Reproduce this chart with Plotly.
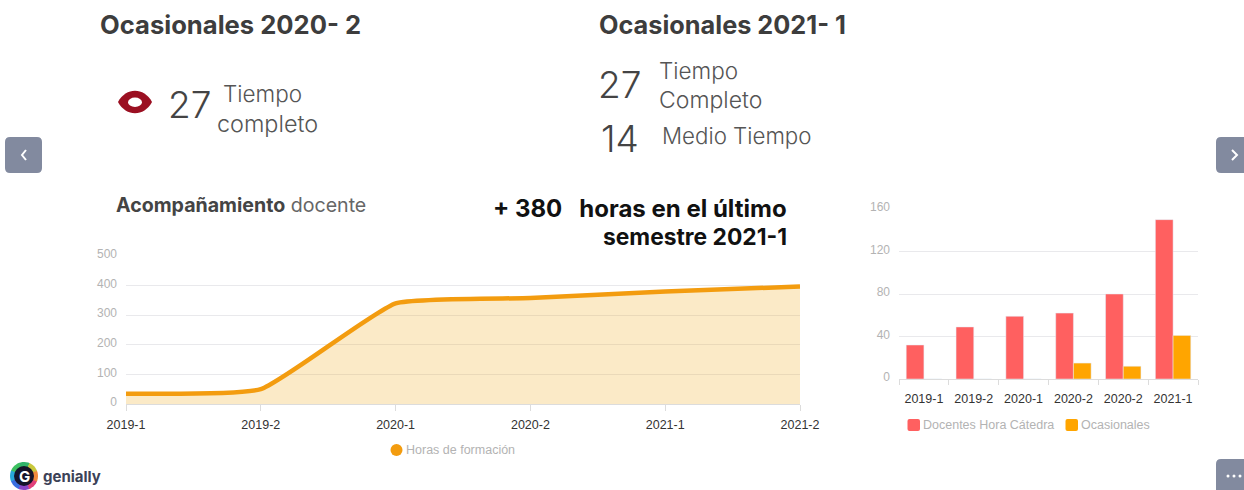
import math
import plotly.graph_objects as go

W, H = 1244, 490

# ---- data ----
line_categories = ["2019-1", "2019-2", "2020-1", "2020-2", "2021-1", "2021-2"]
horas_formacion = [35, 50, 340, 358, 380, 397]

bar_categories = ["2019-1", "2019-2", "2020-1", "2020-2a", "2020-2b", "2021-1"]
bar_labels = ["2019-1", "2019-2", "2020-1", "2020-2", "2020-2", "2021-1"]
docentes_hora_catedra = [32, 49, 59, 62, 80, 150]
ocasionales = [0, 0, 0, 15, 12, 41]

line_ticks = [0, 100, 200, 300, 400, 500]
bar_ticks = [0, 40, 80, 120, 160]

line_series_name = "Horas de formación"
bar_series_names = ["Docentes Hora Cátedra", "Ocasionales"]


def px(x):
    return x / W


def py(y):
    return 1 - y / H


fig = go.Figure()

ORANGE = "#f39c0f"
RED = "#ff6060"
AMBER = "#ffa500"
fig.add_trace(go.Scatter(
    x=line_categories, y=horas_formacion, mode="lines", name=line_series_name,
    line=dict(color=ORANGE, width=4.5, shape="spline", smoothing=0.42),
    fill="tozeroy", fillcolor="rgba(240,172,40,0.26)",
    xaxis="x", yaxis="y", hoverinfo="x+y",
))
fig.add_trace(go.Bar(
    x=bar_categories, y=docentes_hora_catedra, name=bar_series_names[0],
    marker=dict(color=RED), xaxis="x2", yaxis="y2",
))
fig.add_trace(go.Bar(
    x=bar_categories, y=ocasionales, name=bar_series_names[1],
    marker=dict(color=AMBER), xaxis="x2", yaxis="y2",
))

GRID = "#e9e9ec"
AX = "#dcdcdc"
TICK_Y = dict(family="Liberation Sans", size=12, color="#b3b3b3")
TICK_X = dict(family="Liberation Sans", size=12.5, color="#333333")

layout = dict(
    width=W, height=H, autosize=False, showlegend=False,
    margin=dict(l=0, r=0, t=0, b=0, autoexpand=False),
    paper_bgcolor="white", plot_bgcolor="white",
    barmode="group", bargap=0.29, bargroupgap=0,
    xaxis=dict(domain=[px(126), px(800)], anchor="y", type="category",
               categoryorder="array", categoryarray=line_categories,
               range=[0, 5], showgrid=False, showline=True, linecolor=AX,
               ticks="outside", ticklen=6, tickcolor=AX, tickfont=TICK_X,
               ticklabelstandoff=3, zeroline=False, fixedrange=True),
    yaxis=dict(domain=[py(404), py(256)], anchor="x", range=[0, 500],
               tickvals=line_ticks, showgrid=True, gridcolor=GRID,
               zeroline=False, tickfont=TICK_Y, ticklabelstandoff=8,
               ticklabelshift=-2, fixedrange=True),
    xaxis2=dict(domain=[px(899), px(1198)], anchor="y2", type="category",
                categoryorder="array", categoryarray=bar_categories,
                tickvals=bar_categories, ticktext=bar_labels,
                tickson="boundaries", showgrid=False, showline=True,
                linecolor=AX, ticks="outside", ticklen=5, tickcolor=AX,
                tickfont=TICK_X, ticklabelstandoff=8, zeroline=False,
                fixedrange=True),
    yaxis2=dict(domain=[py(379), py(209)], anchor="x2", range=[0, 160],
                tickvals=bar_ticks, showgrid=True, gridcolor=GRID,
                zeroline=False, tickfont=TICK_Y, ticklabelstandoff=8,
                ticklabelshift=-2, fixedrange=True),
)

annotations = []


def text(x, y, s, size, color="#444444", family="Inter", weight=None, anchor="left"):
    f = dict(family=family, size=size, color=color)
    if weight:
        f["weight"] = weight
    annotations.append(dict(
        x=px(x), y=py(y), xref="paper", yref="paper", text=s, showarrow=False,
        xanchor=anchor, yanchor="middle", font=f, borderpad=0, borderwidth=0,
    ))


text(100, 25, "Ocasionales 2020- 2", 25.6, "#3d3d3d", weight=700)
text(599, 25, "Ocasionales 2021- 1", 25.3, "#3d3d3d", weight=700)
text(168, 104, "27", 37, "#444444", weight=300)
text(223, 94, "Tiempo", 22.5, "#555555", weight=300)
text(217, 123, "completo", 23.4, "#555555", weight=300)
text(598, 85, "27", 37, "#444444", weight=300)
text(659, 71, "Tiempo", 22.5, "#555555", weight=300)
text(659, 100, "Completo", 23, "#555555", weight=300)
text(601, 138, "14", 37, "#444444", weight=300)
text(662, 135, "Medio Tiempo", 22.3, "#555555", weight=300)
text(116, 205, "<b>Acompañamiento</b> <span style='color:#666666'>docente</span>", 19.6, "#444444")
text(787, 208, "<b>+ 380\u00a0\u00a0\u00a0horas en el último</b>", 24, "#111111", anchor="right")
text(787, 236, "<b>semestre 2021-1</b>", 22.8, "#111111", anchor="right")
text(43, 476, "<b>genially</b>", 15, "#3c4257", family="Inter")
text(24, 476, "<b>G</b>", 15, "#ffffff", family="Inter", anchor="center")

LEG = "#b3b3b3"
text(406, 450, line_series_name, 12.5, LEG, family="Liberation Sans")
text(923, 425, bar_series_names[0], 12.5, LEG, family="Liberation Sans")
text(1081, 425, bar_series_names[1], 12.5, LEG, family="Liberation Sans")

shapes = []


def X(x):
    return px(x)


def Y(y):
    return py(y)


def path(d, fill, line=None, lw=0):
    shapes.append(dict(type="path", xref="paper", yref="paper", path=d,
                       fillcolor=fill, line=dict(color=line or fill, width=lw), layer="above"))


def round_rect(x0, y0, x1, y1, r, fill):
    d = (f"M {X(x0+r)} {Y(y0)} L {X(x1-r)} {Y(y0)} Q {X(x1)} {Y(y0)} {X(x1)} {Y(y0+r)} "
         f"L {X(x1)} {Y(y1-r)} Q {X(x1)} {Y(y1)} {X(x1-r)} {Y(y1)} "
         f"L {X(x0+r)} {Y(y1)} Q {X(x0)} {Y(y1)} {X(x0)} {Y(y1-r)} "
         f"L {X(x0)} {Y(y0+r)} Q {X(x0)} {Y(y0)} {X(x0+r)} {Y(y0)} Z")
    path(d, fill)


def polyline(pts, color, lw):
    d = "M " + " L ".join(f"{X(a)} {Y(b)}" for a, b in pts)
    shapes.append(dict(type="path", xref="paper", yref="paper", path=d,
                       line=dict(color=color, width=lw), layer="above"))


def dot(cx, cy, r, fill):
    shapes.append(dict(type="circle", xref="paper", yref="paper", x0=X(cx-r), x1=X(cx+r),
                       y0=Y(cy+r), y1=Y(cy-r), fillcolor=fill, line=dict(width=0), layer="above"))


# legend swatches
dot(396.5, 450, 6, ORANGE)
round_rect(907.5, 419, 920, 431, 2, RED)
round_rect(1065.5, 419, 1078, 431, 2, AMBER)

# eye icon
path(f"M {X(118)} {Y(102)} C {X(126)} {Y(87)} {X(144)} {Y(87)} {X(152)} {Y(102)} "
     f"C {X(144)} {Y(117)} {X(126)} {Y(117)} {X(118)} {Y(102)} Z", "#9b1022")
shapes.append(dict(type="circle", xref="paper", yref="paper", x0=X(128), x1=X(142), y0=Y(107), y1=Y(97.5),
                   fillcolor="white", line=dict(width=0), layer="above"))

# navigation buttons
BTN = "#828a9f"
round_rect(5, 137, 42, 173, 5, BTN)
polyline([(26, 150), (22, 155), (26, 160)], "white", 2)
round_rect(1216, 137, 1250, 173, 5, BTN)
polyline([(1232, 150), (1237, 155), (1232, 160)], "white", 2)
round_rect(1216, 459, 1250, 496, 5, BTN)
for cx in (1228, 1234, 1240):
    dot(cx, 476, 1.5, "white")

# genially logo ring
ring = ["#2fb36a", "#c8c83c", "#f08a3c", "#e0407a", "#8a46c8", "#3a6ee0", "#28a8d8", "#3cc060"]
cx, cy, R = 24, 476, 14
for i, c in enumerate(ring):
    a0 = math.radians(i * 45 - 112)
    a1 = math.radians((i + 1) * 45 - 112 + 2)
    pts = [(cx + R * math.cos(a0 + (a1 - a0) * k / 6), cy + R * math.sin(a0 + (a1 - a0) * k / 6)) for k in range(7)]
    d = f"M {X(cx)} {Y(cy)} " + " ".join(f"L {X(a)} {Y(b)}" for a, b in pts) + " Z"
    path(d, c)
dot(cx, cy, 10, "#14142a")

layout["annotations"] = annotations
layout["shapes"] = shapes
fig.update_layout(**layout)

fig.write_html("out.html", post_script="document.body.style.margin='0';document.documentElement.style.overflow='hidden';",
               config={"displayModeBar": False})
